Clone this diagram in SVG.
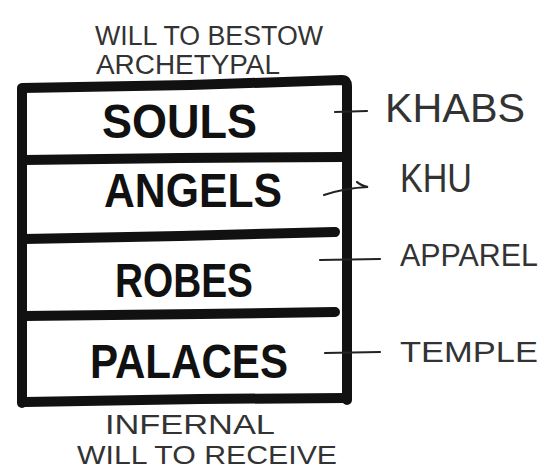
<svg xmlns="http://www.w3.org/2000/svg" width="546" height="473" viewBox="0 0 546 473">
<style>
.frame{fill:none;stroke:#111;stroke-width:10;stroke-linecap:round;stroke-linejoin:round}
.tick{fill:none;stroke:#222;stroke-width:2.2;stroke-linecap:round}
.big{font-family:"Liberation Sans",Arial,sans-serif;font-weight:bold;font-size:48px;fill:#111}
.hand{font-family:"Liberation Sans",Arial,sans-serif;font-size:27px;fill:#333}
.side{font-family:"Liberation Sans",Arial,sans-serif;font-size:40px;fill:#333}
</style>
<rect width="546" height="473" fill="#fff"/>
<text class="hand" x="95" y="45" textLength="228" lengthAdjust="spacingAndGlyphs">WILL TO BESTOW</text>
<text class="hand" x="96" y="74" textLength="184" lengthAdjust="spacingAndGlyphs">ARCHETYPAL</text>
<g id="frame">
<path class="frame" d="M22,90 L22,403"/>
<path class="frame" d="M22,88 L190,85 L342,80 Q347,80 347,86 L347,400"/>
<path class="frame" d="M25,402 L200,399 L345,398"/>
</g>
<g id="souls">
<text class="big" x="102" y="138" textLength="155" lengthAdjust="spacingAndGlyphs">SOULS</text>
</g>
<g id="angels">
<path class="frame" d="M24,160 L180,158 L344,157"/>
<text class="big" x="104" y="207" textLength="178" lengthAdjust="spacingAndGlyphs">ANGELS</text>
</g>
<g id="robes">
<path class="frame" d="M24,239 L180,236 L335,232"/>
<text class="big" x="115" y="297" textLength="138" lengthAdjust="spacingAndGlyphs">ROBES</text>
</g>
<g id="palaces">
<path class="frame" d="M24,316 L200,314 L335,312"/>
<text class="big" x="90" y="378" textLength="198" lengthAdjust="spacingAndGlyphs">PALACES</text>
</g>
<g id="connectors">
<path class="tick" d="M335,112 L367,111"/>
<path class="tick" d="M324,195 Q345,188 368,187 Q360,185 357,182"/>
<path class="tick" d="M320,260 L380,259"/>
<path class="tick" d="M325,353 L380,352"/>
</g>
<g id="labels">
<text class="side" x="385" y="122" textLength="140" lengthAdjust="spacingAndGlyphs">KHABS</text>
<text class="side" x="400" y="192" textLength="72" lengthAdjust="spacingAndGlyphs">KHU</text>
<text class="hand" x="400" y="266" textLength="138" lengthAdjust="spacingAndGlyphs" style="font-size:32px">APPAREL</text>
<text class="hand" x="400" y="362" textLength="138" lengthAdjust="spacingAndGlyphs" style="font-size:30px">TEMPLE</text>
</g>
<text class="hand" x="105" y="434" textLength="170" lengthAdjust="spacingAndGlyphs">INFERNAL</text>
<text class="hand" x="77" y="464" textLength="260" lengthAdjust="spacingAndGlyphs" style="font-size:26px">WILL TO RECEIVE</text>
</svg>
